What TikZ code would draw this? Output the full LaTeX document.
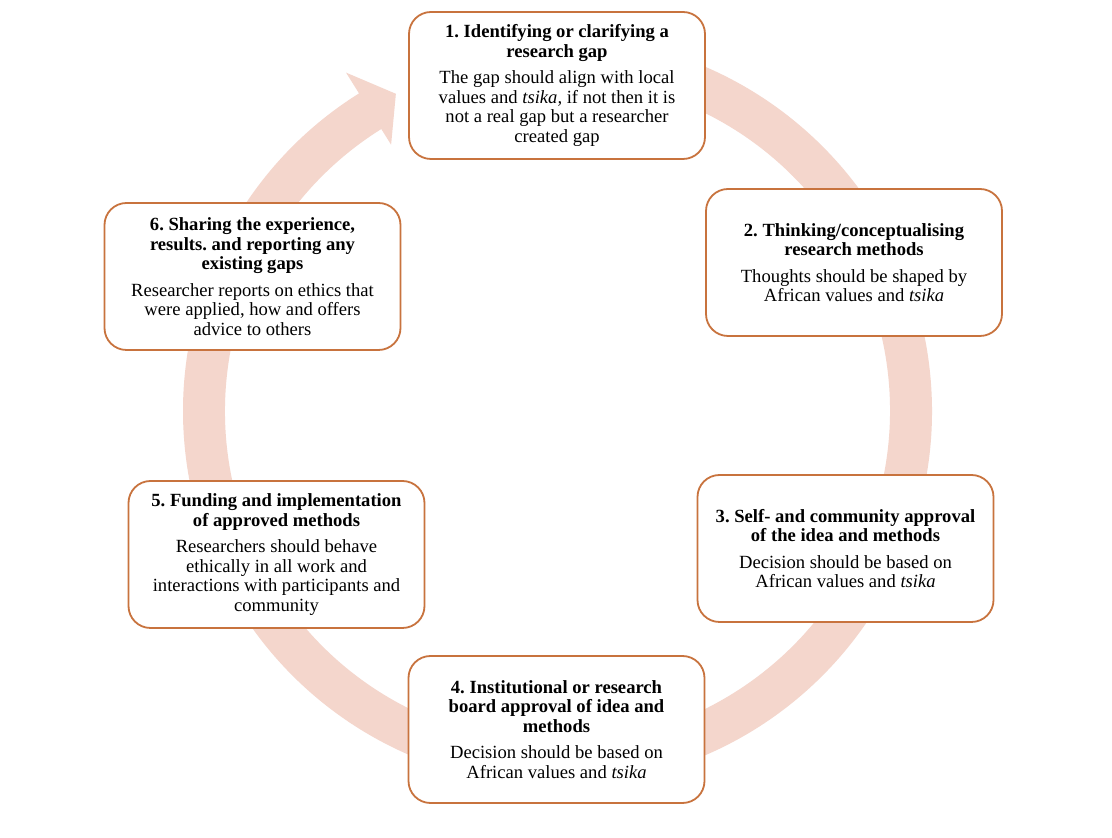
\documentclass[tikz,border=0pt]{standalone}
\usepackage{fontspec}
\setmainfont{Liberation Serif}
\frenchspacing
\definecolor{ringc}{RGB}{244,214,204}
\definecolor{edgec}{RGB}{200,115,62}
\newcommand\stagefont{\fontsize{18.6}{19.5}\selectfont\lineskiplimit=-20pt\relax\lineskip=0pt\relax}
\tikzset{
  stagebox/.style={draw=edgec, line width=1.8pt, fill=white, rounded corners=22pt,
    minimum width=296pt, minimum height=147pt, align=center, inner sep=0pt,
    font=\stagefont},
  ringfill/.style={fill=ringc, draw=none}
}
\begin{document}
\begin{tikzpicture}[x=1pt,y=1pt]
\useasboundingbox[fill=white] (0,0) rectangle (1112,838);
\coordinate (C) at (557.5,427);
% circular arrow
\fill[ringfill] ([shift={(95:374.5)}]C) arc[start angle=95, end angle=-238, radius=374.5]
  -- ([shift={(122:399)}]C) -- ([shift={(117:356)}]C) -- ([shift={(122:314)}]C)
  -- ([shift={(122:332.5)}]C) arc[start angle=-238, end angle=95, radius=332.5] -- cycle;
% boxes
\node[stagebox] (b1) at (557,752.5) {\textbf{1. Identifying or clarifying a}\\\textbf{research gap}\\[7pt]The gap should align with local\\values and \textit{tsika,} if not then it is\\not a real gap but a researcher\\created gap};
\node[stagebox] (b2) at (854,575.5) {\textbf{2. Thinking/conceptualising}\\\textbf{research methods}\\[7pt]Thoughts should be shaped by\\African values and \textit{tsika}};
\node[stagebox] (b3) at (845.5,289.5) {\textbf{3. Self- and community approval}\\\textbf{of the idea and methods}\\[7pt]Decision should be based on\\African values and \textit{tsika}};
\node[stagebox] (b4) at (556.5,108.5) {\textbf{4. Institutional or research}\\\textbf{board approval of idea and}\\\textbf{methods}\\[7pt]Decision should be based on\\African values and \textit{tsika}};
\node[stagebox] (b5) at (276.5,283.5) {\textbf{5. Funding and implementation}\\\textbf{of approved methods}\\[7pt]Researchers should behave\\ethically in all work and\\interactions with participants and\\community};
\node[stagebox] (b6) at (252.5,561.5) {\textbf{6. Sharing the experience,}\\\textbf{results. and reporting any}\\\textbf{existing gaps}\\[7pt]Researcher reports on ethics that\\were applied, how and offers\\advice to others};
\end{tikzpicture}
\end{document}
